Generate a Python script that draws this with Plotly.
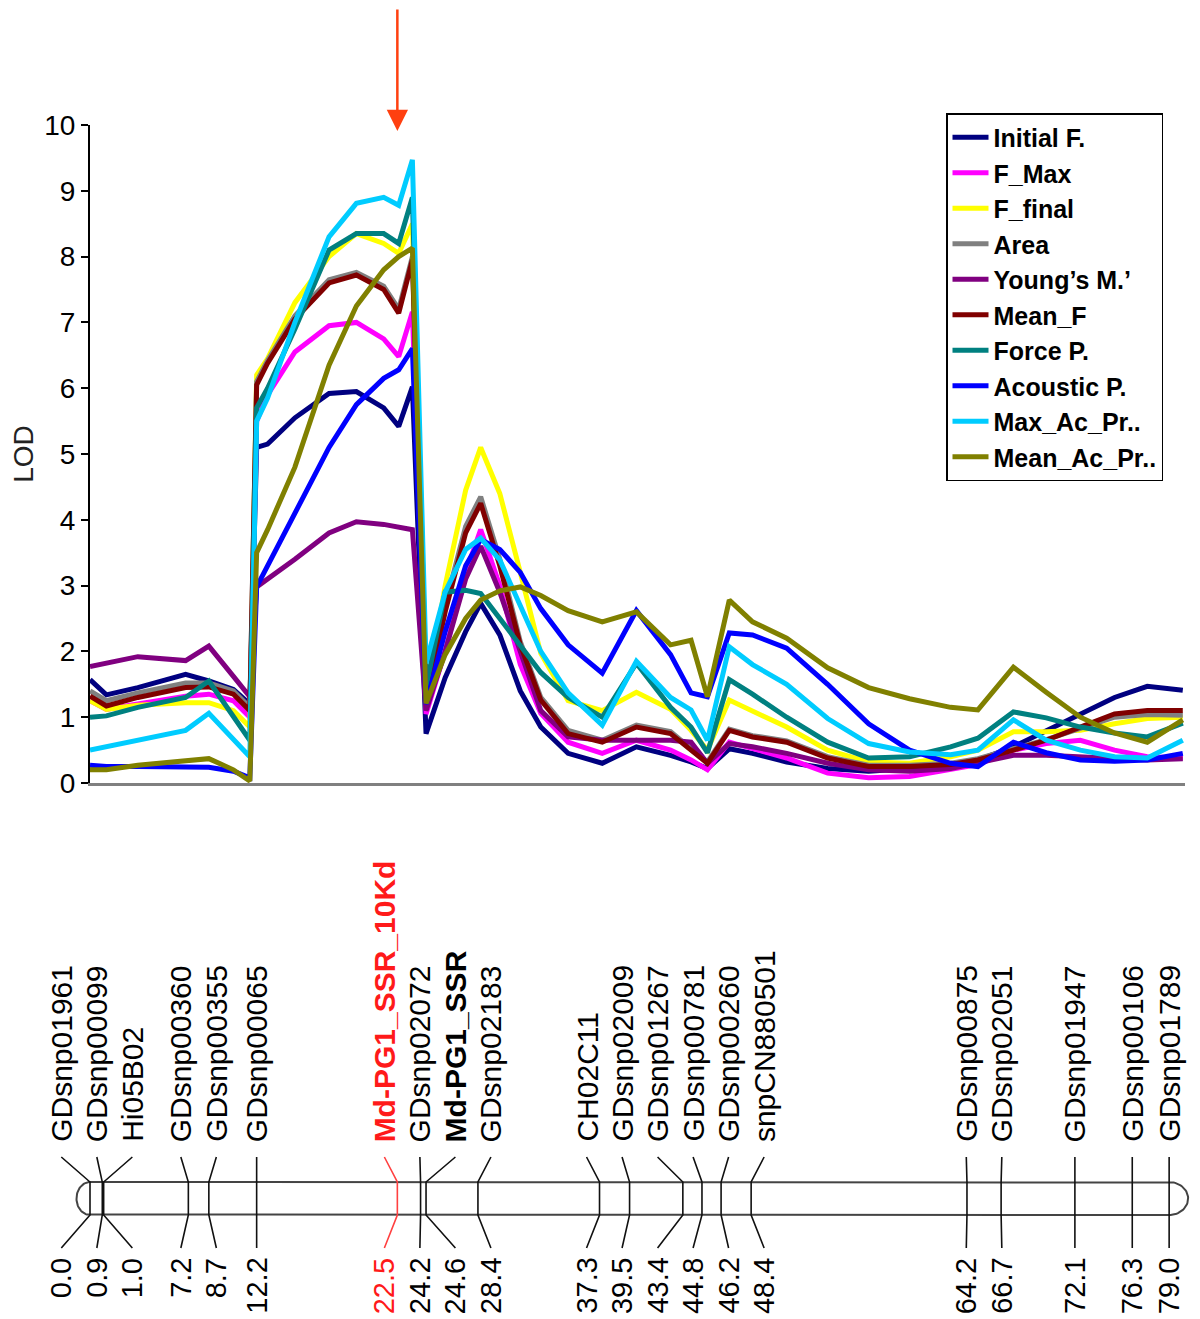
import numpy as np
import plotly.graph_objects as go

# The page adds an 8px body margin, so the figure is 8px smaller and all
# pixel-based layout constants are expressed relative to the figure origin.
OFFSET = 8
W, H = 1200 - OFFSET, 1319 - OFFSET
FONT = "Liberation Sans"

# ---------------- LOD profile data (position in cM) ----------------
positions_cM = [0.0, 1.2, 3.5, 7.0, 8.7, 10.5, 11.7, 12.2, 13.0, 15.0, 17.5, 19.5, 21.5, 22.6,
                23.6, 24.6, 26.0, 27.5, 28.6, 30.0, 31.5, 33.0, 35.0, 37.5, 40.0, 42.5, 44.0,
                45.2, 46.8, 48.5, 51.0, 54.0, 57.0, 60.0, 63.0, 65.0, 67.6, 70.0, 72.5, 75.0,
                77.4, 80.0]

initial_f = [1.57, 1.34, 1.45, 1.65, 1.55, 1.42, 1.2, 5.1, 5.15, 5.55, 5.92, 5.95, 5.7, 5.42,
             6.02, 0.75, 1.6, 2.3, 2.73, 2.25, 1.4, 0.85, 0.45, 0.3, 0.55, 0.42, 0.32,
             0.22, 0.52, 0.45, 0.32, 0.22, 0.18, 0.22, 0.28, 0.35, 0.55, 0.8, 1.05, 1.3,
             1.47, 1.41]
f_max = [1.25, 1.12, 1.2, 1.32, 1.35, 1.25, 1.0, 5.5, 5.9, 6.55, 6.95, 7.0, 6.75, 6.48,
         7.16, 1.05, 2.0, 3.2, 3.85, 3.0, 1.8, 1.06, 0.62, 0.45, 0.65, 0.5, 0.35,
         0.2, 0.62, 0.52, 0.38, 0.15, 0.08, 0.1, 0.2, 0.28, 0.5, 0.6, 0.65, 0.5,
         0.4, 0.38]
f_final = [1.25, 1.12, 1.18, 1.22, 1.22, 1.1, 0.85, 6.2, 6.45, 7.3, 8.0, 8.35, 8.2, 8.05,
           8.5, 1.3, 3.0, 4.45, 5.1, 4.4, 3.2, 1.97, 1.25, 1.1, 1.38, 1.12, 0.8,
           0.5, 1.26, 1.1, 0.85, 0.5, 0.32, 0.3, 0.4, 0.5, 0.78, 0.78, 0.8, 0.9,
           0.98, 1.0]
area = [1.4, 1.25, 1.37, 1.52, 1.52, 1.4, 1.15, 6.1, 6.42, 7.1, 7.65, 7.76, 7.55, 7.2,
        8.0, 1.3, 2.7, 3.9, 4.35, 3.4, 2.15, 1.3, 0.8, 0.65, 0.88, 0.78, 0.52,
        0.32, 0.82, 0.72, 0.64, 0.4, 0.27, 0.27, 0.3, 0.37, 0.52, 0.66, 0.83, 1.0,
        1.04, 1.03]
youngs_m = [1.77, 1.82, 1.92, 1.86, 2.08, 1.62, 1.31, 2.98, 3.1, 3.4, 3.8, 3.97, 3.93, 3.88,
            3.85, 1.1, 2.0, 3.1, 3.6, 2.9, 2.0, 1.1, 0.7, 0.65, 0.65, 0.65, 0.62,
            0.3, 0.6, 0.55, 0.45, 0.3, 0.2, 0.18, 0.22, 0.3, 0.42, 0.42, 0.4, 0.38,
            0.35, 0.37]
mean_f = [1.32, 1.17, 1.3, 1.45, 1.46, 1.35, 1.1, 6.05, 6.38, 7.05, 7.6, 7.72, 7.5, 7.14,
          7.95, 1.25, 2.6, 3.8, 4.25, 3.3, 2.1, 1.26, 0.75, 0.62, 0.85, 0.75, 0.5,
          0.3, 0.8, 0.7, 0.62, 0.38, 0.25, 0.25, 0.28, 0.35, 0.5, 0.65, 0.85, 1.05,
          1.1, 1.1]
force_p = [1.0, 1.02, 1.15, 1.3, 1.55, 1.0, 0.65, 5.7, 6.0, 6.9, 8.1, 8.35, 8.35, 8.2,
           8.9, 1.45, 2.9, 2.93, 2.88, 2.5, 2.1, 1.68, 1.3, 1.0, 1.82, 1.15, 0.85,
           0.46, 1.57, 1.35, 1.0, 0.62, 0.38, 0.4, 0.55, 0.68, 1.08, 0.99, 0.85, 0.76,
           0.7, 0.91]
acoustic_p = [0.27, 0.25, 0.25, 0.25, 0.24, 0.18, 0.08, 2.98, 3.3, 4.1, 5.1, 5.75, 6.15, 6.28,
              6.6, 1.2, 2.3, 3.3, 3.7, 3.55, 3.2, 2.65, 2.1, 1.67, 2.62, 1.95, 1.37,
              1.31, 2.28, 2.25, 2.05, 1.5, 0.9, 0.5, 0.3, 0.25, 0.62, 0.46, 0.35, 0.33,
              0.35, 0.45]
max_ac_pr = [0.5, 0.55, 0.65, 0.8, 1.06, 0.65, 0.4, 5.5, 5.85, 7.0, 8.3, 8.81, 8.9, 8.78,
             9.47, 1.82, 2.9, 3.55, 3.72, 3.39, 2.7, 2.0, 1.37, 0.88, 1.85, 1.3, 1.11,
             0.65, 2.07, 1.8, 1.5, 0.98, 0.6, 0.47, 0.43, 0.5, 0.96, 0.65, 0.5, 0.4,
             0.38, 0.65]
mean_ac_pr = [0.2, 0.2, 0.27, 0.35, 0.37, 0.2, 0.03, 3.5, 3.85, 4.8, 6.35, 7.25, 7.8, 8.0,
              8.13, 1.21, 1.95, 2.5, 2.78, 2.92, 2.98, 2.85, 2.62, 2.45, 2.6, 2.1, 2.17,
              1.31, 2.78, 2.45, 2.2, 1.75, 1.45, 1.28, 1.15, 1.11, 1.76, 1.38, 1.0, 0.76,
              0.62, 0.96]

series_names = ["Initial F.", "F_Max", "F_final", "Area", "Young’s M.’", "Mean_F",
                "Force P.", "Acoustic P.", "Max_Ac_Pr..", "Mean_Ac_Pr.."]
series_values = [initial_f, f_max, f_final, area, youngs_m, mean_f, force_p,
                 acoustic_p, max_ac_pr, mean_ac_pr]
series_colors = ["#000080", "#FF00FF", "#FFFF00", "#808080", "#800080", "#800000",
                 "#008080", "#0000FF", "#00CCFF", "#808000"]

# ---------------- linkage map data ----------------
marker_names = ["GDsnp01961", "GDsnp00099", "Hi05B02", "GDsnp00360", "GDsnp00355",
                "GDsnp00065", "Md-PG1_SSR_10Kd", "GDsnp02072", "Md-PG1_SSR", "GDsnp02183",
                "CH02C11", "GDsnp02009", "GDsnp01267", "GDsnp00781", "GDsnp00260",
                "snpCN880501", "GDsnp00875", "GDsnp02051", "GDsnp01947", "GDsnp00106",
                "GDsnp01789"]
marker_cM = [0.0, 0.9, 1.0, 7.2, 8.7, 12.2, 22.5, 24.2, 24.6, 28.4, 37.3, 39.5, 43.4,
             44.8, 46.2, 48.4, 64.2, 66.7, 72.1, 76.3, 79.0]
highlight_marker = "Md-PG1_SSR_10Kd"
bold_markers = ["Md-PG1_SSR_10Kd", "Md-PG1_SSR"]
qtl_arrow_cM = 22.5

# ---------------- geometry / scale (pixels in the figure) ----------------
PX_PER_CM = 13.66
X0_PX = 90.0 - OFFSET
PLOT_RIGHT_PX = 1185.0 - OFFSET
Y0_PX, Y10_PX = 783.0 - OFFSET, 125.0 - OFFSET
LABEL_GAP_CM = 2.6
BAR_TOP, BAR_BOT = 1182.0 - OFFSET, 1215.0 - OFFSET
CONN_TOP, CONN_BOT = 1157.0 - OFFSET, 1248.0 - OFFSET
LABEL_BASE, NUM_TOP = 1144.0 - OFFSET, 1256.0 - OFFSET
ARROW_TIP_PX = 131.0 - OFFSET
LEGEND_X_PX, LEGEND_Y_PX = 946.0 - OFFSET, 113.0 - OFFSET
LABEL_SIZE = 30


def spread(pos, gap):
    def layout(cl):
        c = (cl[0] + cl[-1]) / 2.0
        n = len(cl)
        return [c + (i - (n - 1) / 2.0) * gap for i in range(n)]
    clusters = [[p] for p in pos]
    changed = True
    while changed:
        changed = False
        out = []
        for cl in clusters:
            if out and layout(cl)[0] - layout(out[-1])[-1] < gap - 1e-9:
                out[-1] = out[-1] + cl
                changed = True
            else:
                out.append(cl)
        clusters = out
    res = []
    for cl in clusters:
        res += layout(cl)
    return res


label_cM = spread(marker_cM, LABEL_GAP_CM)

fig = go.Figure()

for name, vals, col in zip(series_names, series_values, series_colors):
    fig.add_trace(go.Scatter(x=positions_cM, y=vals, mode="lines", name=name,
                             legendgroup=name,
                             line=dict(color=col, width=5), xaxis="x", yaxis="y"))

# chromosome bar outline
ry = (BAR_BOT - BAR_TOP) / 2.0
mid = (BAR_TOP + BAR_BOT) / 2.0
rx_l = 13.5 / PX_PER_CM
rx_r = 19.0 / PX_PER_CM
t = np.linspace(0, np.pi, 40)
end_cM = marker_cM[-1]
bx = [0.0, end_cM] + list(end_cM + rx_r * np.sin(t)) + [end_cM, 0.0] + list(-rx_l * np.sin(t[::-1]))
by = [BAR_TOP, BAR_TOP] + list(mid - ry * np.cos(t)) + [BAR_BOT, BAR_BOT] + list(mid - ry * np.cos(t[::-1]))
fig.add_trace(go.Scatter(x=bx, y=by, mode="lines", line=dict(color="#444444", width=2),
                         showlegend=False, hoverinfo="skip", xaxis="x2", yaxis="y2"))

# marker connectors
for want_red in (False, True):
    xs, ys = [], []
    for name, m, lab in zip(marker_names, marker_cM, label_cM):
        if (name == highlight_marker) != want_red:
            continue
        xs += [lab, m, m, lab, None]
        ys += [CONN_TOP, BAR_TOP, BAR_BOT, CONN_BOT, None]
    fig.add_trace(go.Scatter(x=xs, y=ys, mode="lines",
                             line=dict(color="#FF4040" if want_red else "#111111", width=1.6),
                             showlegend=False, hoverinfo="skip", xaxis="x2", yaxis="y2"))

annotations = []
for name, m, lab in zip(marker_names, marker_cM, label_cM):
    red = name == highlight_marker
    txt = f"<b>{name}</b>" if name in bold_markers else name
    annotations.append(dict(x=lab, y=LABEL_BASE, xref="x2", yref="y2", text=txt,
                            textangle=-90, xanchor="center", yanchor="bottom",
                            showarrow=False,
                            font=dict(family=FONT, size=LABEL_SIZE,
                                      color="#FF1A1A" if red else "black")))
    annotations.append(dict(x=lab, y=NUM_TOP, xref="x2", yref="y2", text=f"{m:.1f}",
                            textangle=-90, xanchor="center", yanchor="top",
                            showarrow=False,
                            font=dict(family=FONT, size=LABEL_SIZE - 1,
                                      color="#FF1A1A" if red else "black")))

# red arrow marking the QTL
tip_lod = (Y0_PX - ARROW_TIP_PX) / ((Y0_PX - Y10_PX) / 10.0)
annotations.append(dict(x=qtl_arrow_cM, y=tip_lod, xref="x", yref="y", text="",
                        showarrow=True, ax=0, ay=-(ARROW_TIP_PX + 2), arrowhead=2,
                        arrowsize=1.7, arrowwidth=2.5, arrowcolor="#FF4010"))

x_range_top = [0, (PLOT_RIGHT_PX - X0_PX) / PX_PER_CM]
x2_range = [-X0_PX / PX_PER_CM, (W - X0_PX) / PX_PER_CM]

fig.update_layout(
    width=W, height=H,
    margin=dict(l=0, r=0, t=0, b=0, autoexpand=False),
    paper_bgcolor="white", plot_bgcolor="rgba(0,0,0,0)",
    font=dict(family=FONT, color="black"),
    showlegend=True,
    legend=dict(x=LEGEND_X_PX / W, y=1 - LEGEND_Y_PX / H, xanchor="left", yanchor="top",
                bgcolor="white", bordercolor="black", borderwidth=1.5,
                font=dict(family=FONT, size=25, color="black", weight="bold"),
                tracegroupgap=0, itemwidth=36),
    xaxis=dict(domain=[X0_PX / W, PLOT_RIGHT_PX / W], range=x_range_top,
               showline=True, linecolor="#808080", linewidth=3,
               showticklabels=False, ticks="", showgrid=False, zeroline=False,
               anchor="y", automargin=False),
    yaxis=dict(domain=[(H - Y0_PX) / H, (H - Y10_PX) / H], range=[0, 10],
               dtick=1, tick0=0, showline=True, linecolor="black", linewidth=2,
               ticks="outside", ticklen=7, tickwidth=2, tickcolor="black",
               tickfont=dict(family=FONT, size=28, color="black"),
               showgrid=False, zeroline=False, anchor="x", automargin=False,
               title=dict(text="LOD", standoff=12,
                          font=dict(family=FONT, size=28, color="#222222"))),
    xaxis2=dict(domain=[0, 1], range=x2_range, visible=False, anchor="y2",
                automargin=False),
    yaxis2=dict(domain=[0, 1], range=[H, 0], visible=False, anchor="x2",
                automargin=False),
    annotations=annotations,
)

fig.write_html("out.html")
